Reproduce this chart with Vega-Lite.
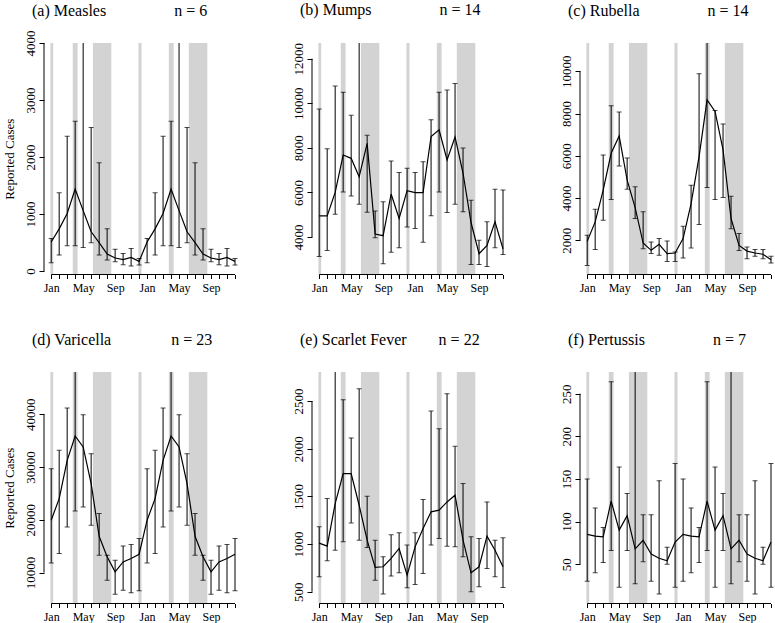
{
  "$schema": "https://vega.github.io/schema/vega-lite/v6.json",
  "autosize": {"type": "pad"},
  "padding": {"left": 2, "top": 2, "right": 0, "bottom": 0},
  "background": "white",
  "config": {
    "font": "Liberation Serif",
    "view": {"stroke": null},
    "title": {"font": "Liberation Serif", "fontSize": 16, "fontWeight": "normal", "anchor": "start", "frame": "group", "dx": -12, "baseline": "alphabetic", "offset": 11, "color": "black"},
    "axis": {"domain": false, "grid": false, "labelFont": "Liberation Serif", "titleFont": "Liberation Serif", "labelColor": "black", "tickColor": "black", "titleColor": "black", "titleFontWeight": "normal", "labelOverlap": false, "labelFlush": false},
    "axisX": {"tickSize": 4, "labelFontSize": 12, "labelBaseline": "alphabetic", "labelPadding": 13},
    "axisY": {"tickSize": 5, "labelFontSize": 13, "titleFontSize": 13, "labelAngle": 270, "labelAlign": "center", "labelBaseline": "alphabetic", "labelPadding": 5, "titlePadding": 8}
  },
  "datasets": {
    "one": [{"k": 1}],
    "hol": [{"s": 0.9, "e": 1.25}, {"s": 3.7, "e": 4.3}, {"s": 6.22, "e": 8.52}, {"s": 11.92, "e": 12.3}, {"s": 15.72, "e": 16.32}, {"s": 18.22, "e": 20.54}],
    "meas": [
      {"m":1,"v":510,"lo":146,"hi":572},{"m":2,"v":740,"lo":280,"hi":1372},{"m":3,"v":1010,"lo":444,"hi":2365},{"m":4,"v":1440,"lo":444,"hi":2628},
      {"m":5,"v":1060,"lo":415,"hi":4030},{"m":6,"v":690,"lo":496,"hi":2517},{"m":7,"v":500,"lo":280,"hi":1898},{"m":8,"v":300,"lo":193,"hi":742},
      {"m":9,"v":230,"lo":164,"hi":385},{"m":10,"v":200,"lo":111,"hi":310},{"m":11,"v":240,"lo":88,"hi":397},{"m":12,"v":170,"lo":105,"hi":222},
      {"m":13,"v":510,"lo":146,"hi":572},{"m":14,"v":740,"lo":280,"hi":1372},{"m":15,"v":1010,"lo":444,"hi":2365},{"m":16,"v":1440,"lo":444,"hi":2628},
      {"m":17,"v":1060,"lo":415,"hi":4030},{"m":18,"v":690,"lo":496,"hi":2517},{"m":19,"v":500,"lo":280,"hi":1898},{"m":20,"v":300,"lo":193,"hi":742},
      {"m":21,"v":230,"lo":164,"hi":385},{"m":22,"v":200,"lo":111,"hi":310},{"m":23,"v":240,"lo":88,"hi":397},{"m":24,"v":170,"lo":105,"hi":222}
    ],
    "mump": [
      {"m":1,"v":4950,"lo":3130,"hi":9740},{"m":2,"v":4950,"lo":3400,"hi":7960},{"m":3,"v":6000,"lo":5020,"hi":10770},{"m":4,"v":7680,"lo":6020,"hi":10500},
      {"m":5,"v":7530,"lo":5840,"hi":9460},{"m":6,"v":6700,"lo":5470,"hi":12740},{"m":7,"v":8200,"lo":5110,"hi":8560},{"m":8,"v":4130,"lo":3970,"hi":5170},
      {"m":9,"v":4060,"lo":2800,"hi":5580},{"m":10,"v":5930,"lo":3320,"hi":7410},{"m":11,"v":4830,"lo":3520,"hi":6890},{"m":12,"v":6080,"lo":4450,"hi":7080},
      {"m":13,"v":5990,"lo":4380,"hi":6890},{"m":14,"v":5990,"lo":3770,"hi":7380},{"m":15,"v":8510,"lo":4950,"hi":9260},{"m":16,"v":8810,"lo":6020,"hi":10500},
      {"m":17,"v":7460,"lo":5100,"hi":10590},{"m":18,"v":8490,"lo":5470,"hi":10890},{"m":19,"v":6860,"lo":5130,"hi":7990},{"m":20,"v":4650,"lo":2770,"hi":5650},
      {"m":21,"v":3250,"lo":2770,"hi":3850},{"m":22,"v":3620,"lo":2680,"hi":4680},{"m":23,"v":4680,"lo":3520,"hi":6140},{"m":24,"v":3470,"lo":3220,"hi":6110}
    ],
    "rube": [
      {"m":1,"v":1950,"lo":810,"hi":2240},{"m":2,"v":2870,"lo":1560,"hi":3470},{"m":3,"v":4380,"lo":2950,"hi":6040},{"m":4,"v":6120,"lo":3930,"hi":8370},
      {"m":5,"v":6940,"lo":5520,"hi":8070},{"m":6,"v":4850,"lo":4420,"hi":5900},{"m":7,"v":3550,"lo":3030,"hi":4530},{"m":8,"v":1870,"lo":1600,"hi":3350},
      {"m":9,"v":1525,"lo":1370,"hi":1920},{"m":10,"v":1810,"lo":1290,"hi":2080},{"m":11,"v":1370,"lo":1000,"hi":1970},{"m":12,"v":1400,"lo":1000,"hi":1450},
      {"m":13,"v":2080,"lo":1160,"hi":2670},{"m":14,"v":3740,"lo":1640,"hi":4610},{"m":15,"v":5960,"lo":2750,"hi":9890},{"m":16,"v":8650,"lo":4500,"hi":11380},
      {"m":17,"v":8100,"lo":3930,"hi":8150},{"m":18,"v":6280,"lo":4030,"hi":7510},{"m":19,"v":3030,"lo":2550,"hi":4090},{"m":20,"v":1760,"lo":1520,"hi":2320},
      {"m":21,"v":1490,"lo":1130,"hi":1680},{"m":22,"v":1400,"lo":1240,"hi":1570},{"m":23,"v":1340,"lo":1130,"hi":1560},{"m":24,"v":1080,"lo":920,"hi":1240}
    ],
    "vari": [
      {"m":1,"v":19920,"lo":11830,"hi":29700},{"m":2,"v":24020,"lo":13600,"hi":33180},{"m":3,"v":31280,"lo":18650,"hi":41200},{"m":4,"v":35900,"lo":21680,"hi":48200},
      {"m":5,"v":33810,"lo":22450,"hi":39940},{"m":6,"v":26860,"lo":18970,"hi":32550},{"m":7,"v":16880,"lo":13280,"hi":21180},{"m":8,"v":13000,"lo":8550,"hi":13300},
      {"m":9,"v":10130,"lo":5900,"hi":12340},{"m":10,"v":12020,"lo":6650,"hi":15050},{"m":11,"v":12650,"lo":6150,"hi":15300},{"m":12,"v":13470,"lo":6530,"hi":16440},
      {"m":13,"v":19920,"lo":11830,"hi":29700},{"m":14,"v":24020,"lo":13600,"hi":33180},{"m":15,"v":31280,"lo":18650,"hi":41200},{"m":16,"v":35900,"lo":21680,"hi":48200},
      {"m":17,"v":33810,"lo":22450,"hi":39940},{"m":18,"v":26860,"lo":18970,"hi":32550},{"m":19,"v":16880,"lo":13280,"hi":21180},{"m":20,"v":13000,"lo":8550,"hi":13300},
      {"m":21,"v":10130,"lo":5900,"hi":12340},{"m":22,"v":12020,"lo":6650,"hi":15050},{"m":23,"v":12650,"lo":6150,"hi":15300},{"m":24,"v":13470,"lo":6530,"hi":16440}
    ],
    "scar": [
      {"m":1,"v":1010,"lo":657,"hi":1181},{"m":2,"v":978,"lo":825,"hi":1477},{"m":3,"v":1425,"lo":936,"hi":2815},{"m":4,"v":1739,"lo":1024,"hi":2514},
      {"m":5,"v":1739,"lo":1222,"hi":2113},{"m":6,"v":1407,"lo":1041,"hi":2629},{"m":7,"v":1041,"lo":964,"hi":1502},{"m":8,"v":755,"lo":622,"hi":1041},
      {"m":9,"v":762,"lo":476,"hi":867},{"m":10,"v":849,"lo":664,"hi":1097},{"m":11,"v":954,"lo":699,"hi":1118},{"m":12,"v":675,"lo":542,"hi":989},
      {"m":13,"v":971,"lo":577,"hi":1118},{"m":14,"v":1163,"lo":692,"hi":1467},{"m":15,"v":1338,"lo":989,"hi":2395},{"m":16,"v":1355,"lo":1058,"hi":2210},
      {"m":17,"v":1442,"lo":978,"hi":2577},{"m":18,"v":1512,"lo":971,"hi":2025},{"m":19,"v":1041,"lo":867,"hi":1634},{"m":20,"v":699,"lo":500,"hi":1076},
      {"m":21,"v":762,"lo":552,"hi":1058},{"m":22,"v":1083,"lo":744,"hi":1442},{"m":23,"v":936,"lo":657,"hi":1041},{"m":24,"v":762,"lo":545,"hi":1065}
    ],
    "pert": [
      {"m":1,"v":85,"lo":30,"hi":150},{"m":2,"v":83,"lo":40,"hi":116},{"m":3,"v":82,"lo":52,"hi":93},{"m":4,"v":124,"lo":66,"hi":264},
      {"m":5,"v":90,"lo":23,"hi":164},{"m":6,"v":107,"lo":66,"hi":133},{"m":7,"v":68,"lo":27,"hi":277},{"m":8,"v":78,"lo":53,"hi":108},
      {"m":9,"v":62,"lo":30,"hi":108},{"m":10,"v":57,"lo":15,"hi":148},{"m":11,"v":54,"lo":50,"hi":70},{"m":12,"v":76,"lo":23,"hi":168},
      {"m":13,"v":85,"lo":30,"hi":150},{"m":14,"v":83,"lo":40,"hi":116},{"m":15,"v":82,"lo":52,"hi":93},{"m":16,"v":124,"lo":66,"hi":264},
      {"m":17,"v":90,"lo":23,"hi":164},{"m":18,"v":107,"lo":66,"hi":133},{"m":19,"v":68,"lo":27,"hi":277},{"m":20,"v":78,"lo":53,"hi":108},
      {"m":21,"v":62,"lo":30,"hi":108},{"m":22,"v":57,"lo":15,"hi":148},{"m":23,"v":54,"lo":50,"hi":70},{"m":24,"v":76,"lo":23,"hi":168}
    ]
  },
  "columns": 3,
  "spacing": {"row": 97, "column": 73},
  "bounds": "flush",
  "concat": [
    {
      "title": {"text": "(a) Measles\u00a0\u00a0\u00a0\u00a0\u00a0\u00a0\u00a0\u00a0\u00a0\u00a0\u00a0\u00a0\u00a0\u00a0\u00a0\u00a0\u00a0n = 6", "font": "Liberation Serif", "fontSize": 16, "fontWeight": "normal", "anchor": "start", "frame": "group", "dx": -12, "baseline": "alphabetic", "offset": -2},
      "width": 195, "height": 231.5,
      "layer": [
        {"data": {"name": "hol"}, "mark": {"type": "rect", "color": "#d3d3d3"},
         "encoding": {"x": {"field": "s", "type": "quantitative", "scale": {"domain": [0.1, 24.5], "nice": false, "zero": false}, "axis": {"values": [1,2,3,4,5,6,7,8,9,10,11,12,13,14,15,16,17,18,19,20,21,22,23,24], "tickCount": 30, "title": null, "labelOverlap": false, "labelExpr": "datum.value % 12 == 1 ? 'Jan' : datum.value % 12 == 5 ? 'May' : datum.value % 12 == 9 ? 'Sep' : ''"}}, "x2": {"field": "e"}}},
        {"data": {"name": "meas"}, "mark": {"type": "rule", "color": "black", "strokeWidth": 1, "clip": true},
         "encoding": {"x": {"field": "m", "type": "quantitative", "scale": {"domain": [0.1, 24.5], "nice": false, "zero": false}, "axis": {"values": [1,2,3,4,5,6,7,8,9,10,11,12,13,14,15,16,17,18,19,20,21,22,23,24], "tickCount": 30, "title": null, "labelOverlap": false, "labelExpr": "datum.value % 12 == 1 ? 'Jan' : datum.value % 12 == 5 ? 'May' : datum.value % 12 == 9 ? 'Sep' : ''"}},
          "y": {"field": "lo", "type": "quantitative", "scale": {"domain": [-60, 4000], "nice": false, "zero": false}, "axis": {"values": [0,1000,2000,3000,4000], "format": "d", "labelOverlap": false, "title": "Reported Cases"}}, "y2": {"field": "hi"}}},
        {"data": {"name": "meas"}, "mark": {"type": "tick", "orient": "horizontal", "size": 5, "thickness": 1, "color": "black", "clip": true},
         "encoding": {"x": {"field": "m", "type": "quantitative", "scale": {"domain": [0.1, 24.5], "nice": false, "zero": false}, "axis": {"values": [1,2,3,4,5,6,7,8,9,10,11,12,13,14,15,16,17,18,19,20,21,22,23,24], "tickCount": 30, "title": null, "labelOverlap": false, "labelExpr": "datum.value % 12 == 1 ? 'Jan' : datum.value % 12 == 5 ? 'May' : datum.value % 12 == 9 ? 'Sep' : ''"}},
          "y": {"field": "lo", "type": "quantitative", "scale": {"domain": [-60, 4000], "nice": false, "zero": false}, "axis": {"values": [0,1000,2000,3000,4000], "format": "d", "labelOverlap": false, "title": "Reported Cases"}}}},
        {"data": {"name": "meas"}, "mark": {"type": "tick", "orient": "horizontal", "size": 5, "thickness": 1, "color": "black", "clip": true},
         "encoding": {"x": {"field": "m", "type": "quantitative", "scale": {"domain": [0.1, 24.5], "nice": false, "zero": false}, "axis": {"values": [1,2,3,4,5,6,7,8,9,10,11,12,13,14,15,16,17,18,19,20,21,22,23,24], "tickCount": 30, "title": null, "labelOverlap": false, "labelExpr": "datum.value % 12 == 1 ? 'Jan' : datum.value % 12 == 5 ? 'May' : datum.value % 12 == 9 ? 'Sep' : ''"}},
          "y": {"field": "hi", "type": "quantitative", "scale": {"domain": [-60, 4000], "nice": false, "zero": false}, "axis": {"values": [0,1000,2000,3000,4000], "format": "d", "labelOverlap": false, "title": "Reported Cases"}}}},
        {"data": {"name": "meas"}, "mark": {"type": "line", "color": "black", "strokeWidth": 1.2, "clip": true},
         "encoding": {"x": {"field": "m", "type": "quantitative", "scale": {"domain": [0.1, 24.5], "nice": false, "zero": false}, "axis": {"values": [1,2,3,4,5,6,7,8,9,10,11,12,13,14,15,16,17,18,19,20,21,22,23,24], "tickCount": 30, "title": null, "labelOverlap": false, "labelExpr": "datum.value % 12 == 1 ? 'Jan' : datum.value % 12 == 5 ? 'May' : datum.value % 12 == 9 ? 'Sep' : ''"}},
          "y": {"field": "v", "type": "quantitative", "scale": {"domain": [-60, 4000], "nice": false, "zero": false}, "axis": {"values": [0,1000,2000,3000,4000], "format": "d", "labelOverlap": false, "title": "Reported Cases"}}}},
        {"data": {"name": "one"}, "mark": {"type": "rule", "color": "black", "strokeWidth": 1},
         "encoding": {"x": {"datum": 0.1, "type": "quantitative"}, "y": {"datum": 0, "type": "quantitative"}, "y2": {"datum": 4000}}},
        {"data": {"name": "one"}, "mark": {"type": "rule", "color": "black", "strokeWidth": 1},
         "encoding": {"x": {"datum": 1, "type": "quantitative"}, "x2": {"datum": 24}, "y": {"datum": -60, "type": "quantitative"}}}
      ]
    },
    {
      "title": {"text": "(b) Mumps\u00a0\u00a0\u00a0\u00a0\u00a0\u00a0\u00a0\u00a0\u00a0\u00a0\u00a0\u00a0\u00a0\u00a0\u00a0\u00a0\u00a0n = 14", "font": "Liberation Serif", "fontSize": 16, "fontWeight": "normal", "anchor": "start", "frame": "group", "dx": -12, "baseline": "alphabetic", "offset": 11},
      "width": 195, "height": 231.5,
      "layer": [
        {"data": {"name": "hol"}, "mark": {"type": "rect", "color": "#d3d3d3"},
         "encoding": {"x": {"field": "s", "type": "quantitative", "scale": {"domain": [0.1, 24.5], "nice": false, "zero": false}, "axis": {"values": [1,2,3,4,5,6,7,8,9,10,11,12,13,14,15,16,17,18,19,20,21,22,23,24], "tickCount": 30, "title": null, "labelOverlap": false, "labelExpr": "datum.value % 12 == 1 ? 'Jan' : datum.value % 12 == 5 ? 'May' : datum.value % 12 == 9 ? 'Sep' : ''"}}, "x2": {"field": "e"}}},
        {"data": {"name": "mump"}, "mark": {"type": "rule", "color": "black", "strokeWidth": 1, "clip": true},
         "encoding": {"x": {"field": "m", "type": "quantitative", "scale": {"domain": [0.1, 24.5], "nice": false, "zero": false}, "axis": {"values": [1,2,3,4,5,6,7,8,9,10,11,12,13,14,15,16,17,18,19,20,21,22,23,24], "tickCount": 30, "title": null, "labelOverlap": false, "labelExpr": "datum.value % 12 == 1 ? 'Jan' : datum.value % 12 == 5 ? 'May' : datum.value % 12 == 9 ? 'Sep' : ''"}},
          "y": {"field": "lo", "type": "quantitative", "scale": {"domain": [2318, 12704], "nice": false, "zero": false}, "axis": {"values": [4000,6000,8000,10000,12000], "format": "d", "labelOverlap": false, "title": null}}, "y2": {"field": "hi"}}},
        {"data": {"name": "mump"}, "mark": {"type": "tick", "orient": "horizontal", "size": 5, "thickness": 1, "color": "black", "clip": true},
         "encoding": {"x": {"field": "m", "type": "quantitative", "scale": {"domain": [0.1, 24.5], "nice": false, "zero": false}, "axis": {"values": [1,2,3,4,5,6,7,8,9,10,11,12,13,14,15,16,17,18,19,20,21,22,23,24], "tickCount": 30, "title": null, "labelOverlap": false, "labelExpr": "datum.value % 12 == 1 ? 'Jan' : datum.value % 12 == 5 ? 'May' : datum.value % 12 == 9 ? 'Sep' : ''"}},
          "y": {"field": "lo", "type": "quantitative", "scale": {"domain": [2318, 12704], "nice": false, "zero": false}, "axis": {"values": [4000,6000,8000,10000,12000], "format": "d", "labelOverlap": false, "title": null}}}},
        {"data": {"name": "mump"}, "mark": {"type": "tick", "orient": "horizontal", "size": 5, "thickness": 1, "color": "black", "clip": true},
         "encoding": {"x": {"field": "m", "type": "quantitative", "scale": {"domain": [0.1, 24.5], "nice": false, "zero": false}, "axis": {"values": [1,2,3,4,5,6,7,8,9,10,11,12,13,14,15,16,17,18,19,20,21,22,23,24], "tickCount": 30, "title": null, "labelOverlap": false, "labelExpr": "datum.value % 12 == 1 ? 'Jan' : datum.value % 12 == 5 ? 'May' : datum.value % 12 == 9 ? 'Sep' : ''"}},
          "y": {"field": "hi", "type": "quantitative", "scale": {"domain": [2318, 12704], "nice": false, "zero": false}, "axis": {"values": [4000,6000,8000,10000,12000], "format": "d", "labelOverlap": false, "title": null}}}},
        {"data": {"name": "mump"}, "mark": {"type": "line", "color": "black", "strokeWidth": 1.2, "clip": true},
         "encoding": {"x": {"field": "m", "type": "quantitative", "scale": {"domain": [0.1, 24.5], "nice": false, "zero": false}, "axis": {"values": [1,2,3,4,5,6,7,8,9,10,11,12,13,14,15,16,17,18,19,20,21,22,23,24], "tickCount": 30, "title": null, "labelOverlap": false, "labelExpr": "datum.value % 12 == 1 ? 'Jan' : datum.value % 12 == 5 ? 'May' : datum.value % 12 == 9 ? 'Sep' : ''"}},
          "y": {"field": "v", "type": "quantitative", "scale": {"domain": [2318, 12704], "nice": false, "zero": false}, "axis": {"values": [4000,6000,8000,10000,12000], "format": "d", "labelOverlap": false, "title": null}}}},
        {"data": {"name": "one"}, "mark": {"type": "rule", "color": "black", "strokeWidth": 1},
         "encoding": {"x": {"datum": 0.1, "type": "quantitative"}, "y": {"datum": 4000, "type": "quantitative"}, "y2": {"datum": 12000}}},
        {"data": {"name": "one"}, "mark": {"type": "rule", "color": "black", "strokeWidth": 1},
         "encoding": {"x": {"datum": 1, "type": "quantitative"}, "x2": {"datum": 24}, "y": {"datum": 2318, "type": "quantitative"}}}
      ]
    },
    {
      "title": {"text": "(c) Rubella\u00a0\u00a0\u00a0\u00a0\u00a0\u00a0\u00a0\u00a0\u00a0\u00a0\u00a0\u00a0\u00a0\u00a0\u00a0\u00a0\u00a0n = 14", "font": "Liberation Serif", "fontSize": 16, "fontWeight": "normal", "anchor": "start", "frame": "group", "dx": -12, "baseline": "alphabetic", "offset": 11},
      "width": 195, "height": 231.5,
      "layer": [
        {"data": {"name": "hol"}, "mark": {"type": "rect", "color": "#d3d3d3"},
         "encoding": {"x": {"field": "s", "type": "quantitative", "scale": {"domain": [0.1, 24.5], "nice": false, "zero": false}, "axis": {"values": [1,2,3,4,5,6,7,8,9,10,11,12,13,14,15,16,17,18,19,20,21,22,23,24], "tickCount": 30, "title": null, "labelOverlap": false, "labelExpr": "datum.value % 12 == 1 ? 'Jan' : datum.value % 12 == 5 ? 'May' : datum.value % 12 == 9 ? 'Sep' : ''"}}, "x2": {"field": "e"}}},
        {"data": {"name": "rube"}, "mark": {"type": "rule", "color": "black", "strokeWidth": 1, "clip": true},
         "encoding": {"x": {"field": "m", "type": "quantitative", "scale": {"domain": [0.1, 24.5], "nice": false, "zero": false}, "axis": {"values": [1,2,3,4,5,6,7,8,9,10,11,12,13,14,15,16,17,18,19,20,21,22,23,24], "tickCount": 30, "title": null, "labelOverlap": false, "labelExpr": "datum.value % 12 == 1 ? 'Jan' : datum.value % 12 == 5 ? 'May' : datum.value % 12 == 9 ? 'Sep' : ''"}},
          "y": {"field": "lo", "type": "quantitative", "scale": {"domain": [381, 11340], "nice": false, "zero": false}, "axis": {"values": [2000,4000,6000,8000,10000], "format": "d", "labelOverlap": false, "title": null}}, "y2": {"field": "hi"}}},
        {"data": {"name": "rube"}, "mark": {"type": "tick", "orient": "horizontal", "size": 5, "thickness": 1, "color": "black", "clip": true},
         "encoding": {"x": {"field": "m", "type": "quantitative", "scale": {"domain": [0.1, 24.5], "nice": false, "zero": false}, "axis": {"values": [1,2,3,4,5,6,7,8,9,10,11,12,13,14,15,16,17,18,19,20,21,22,23,24], "tickCount": 30, "title": null, "labelOverlap": false, "labelExpr": "datum.value % 12 == 1 ? 'Jan' : datum.value % 12 == 5 ? 'May' : datum.value % 12 == 9 ? 'Sep' : ''"}},
          "y": {"field": "lo", "type": "quantitative", "scale": {"domain": [381, 11340], "nice": false, "zero": false}, "axis": {"values": [2000,4000,6000,8000,10000], "format": "d", "labelOverlap": false, "title": null}}}},
        {"data": {"name": "rube"}, "mark": {"type": "tick", "orient": "horizontal", "size": 5, "thickness": 1, "color": "black", "clip": true},
         "encoding": {"x": {"field": "m", "type": "quantitative", "scale": {"domain": [0.1, 24.5], "nice": false, "zero": false}, "axis": {"values": [1,2,3,4,5,6,7,8,9,10,11,12,13,14,15,16,17,18,19,20,21,22,23,24], "tickCount": 30, "title": null, "labelOverlap": false, "labelExpr": "datum.value % 12 == 1 ? 'Jan' : datum.value % 12 == 5 ? 'May' : datum.value % 12 == 9 ? 'Sep' : ''"}},
          "y": {"field": "hi", "type": "quantitative", "scale": {"domain": [381, 11340], "nice": false, "zero": false}, "axis": {"values": [2000,4000,6000,8000,10000], "format": "d", "labelOverlap": false, "title": null}}}},
        {"data": {"name": "rube"}, "mark": {"type": "line", "color": "black", "strokeWidth": 1.2, "clip": true},
         "encoding": {"x": {"field": "m", "type": "quantitative", "scale": {"domain": [0.1, 24.5], "nice": false, "zero": false}, "axis": {"values": [1,2,3,4,5,6,7,8,9,10,11,12,13,14,15,16,17,18,19,20,21,22,23,24], "tickCount": 30, "title": null, "labelOverlap": false, "labelExpr": "datum.value % 12 == 1 ? 'Jan' : datum.value % 12 == 5 ? 'May' : datum.value % 12 == 9 ? 'Sep' : ''"}},
          "y": {"field": "v", "type": "quantitative", "scale": {"domain": [381, 11340], "nice": false, "zero": false}, "axis": {"values": [2000,4000,6000,8000,10000], "format": "d", "labelOverlap": false, "title": null}}}},
        {"data": {"name": "one"}, "mark": {"type": "rule", "color": "black", "strokeWidth": 1},
         "encoding": {"x": {"datum": 0.1, "type": "quantitative"}, "y": {"datum": 2000, "type": "quantitative"}, "y2": {"datum": 10000}}},
        {"data": {"name": "one"}, "mark": {"type": "rule", "color": "black", "strokeWidth": 1},
         "encoding": {"x": {"datum": 1, "type": "quantitative"}, "x2": {"datum": 24}, "y": {"datum": 381, "type": "quantitative"}}}
      ]
    },
    {
      "title": {"text": "(d) Varicella\u00a0\u00a0\u00a0\u00a0\u00a0\u00a0\u00a0\u00a0\u00a0\u00a0\u00a0\u00a0\u00a0\u00a0\u00a0n = 23", "font": "Liberation Serif", "fontSize": 16, "fontWeight": "normal", "anchor": "start", "frame": "group", "dx": -12, "baseline": "alphabetic", "offset": 11},
      "width": 195, "height": 231.5,
      "layer": [
        {"data": {"name": "hol"}, "mark": {"type": "rect", "color": "#d3d3d3"},
         "encoding": {"x": {"field": "s", "type": "quantitative", "scale": {"domain": [0.1, 24.5], "nice": false, "zero": false}, "axis": {"values": [1,2,3,4,5,6,7,8,9,10,11,12,13,14,15,16,17,18,19,20,21,22,23,24], "tickCount": 30, "title": null, "labelOverlap": false, "labelExpr": "datum.value % 12 == 1 ? 'Jan' : datum.value % 12 == 5 ? 'May' : datum.value % 12 == 9 ? 'Sep' : ''"}}, "x2": {"field": "e"}}},
        {"data": {"name": "vari"}, "mark": {"type": "rule", "color": "black", "strokeWidth": 1, "clip": true},
         "encoding": {"x": {"field": "m", "type": "quantitative", "scale": {"domain": [0.1, 24.5], "nice": false, "zero": false}, "axis": {"values": [1,2,3,4,5,6,7,8,9,10,11,12,13,14,15,16,17,18,19,20,21,22,23,24], "tickCount": 30, "title": null, "labelOverlap": false, "labelExpr": "datum.value % 12 == 1 ? 'Jan' : datum.value % 12 == 5 ? 'May' : datum.value % 12 == 9 ? 'Sep' : ''"}},
          "y": {"field": "lo", "type": "quantitative", "scale": {"domain": [4127, 48033], "nice": false, "zero": false}, "axis": {"values": [10000,20000,30000,40000], "format": "d", "labelOverlap": false, "title": "Reported Cases"}}, "y2": {"field": "hi"}}},
        {"data": {"name": "vari"}, "mark": {"type": "tick", "orient": "horizontal", "size": 5, "thickness": 1, "color": "black", "clip": true},
         "encoding": {"x": {"field": "m", "type": "quantitative", "scale": {"domain": [0.1, 24.5], "nice": false, "zero": false}, "axis": {"values": [1,2,3,4,5,6,7,8,9,10,11,12,13,14,15,16,17,18,19,20,21,22,23,24], "tickCount": 30, "title": null, "labelOverlap": false, "labelExpr": "datum.value % 12 == 1 ? 'Jan' : datum.value % 12 == 5 ? 'May' : datum.value % 12 == 9 ? 'Sep' : ''"}},
          "y": {"field": "lo", "type": "quantitative", "scale": {"domain": [4127, 48033], "nice": false, "zero": false}, "axis": {"values": [10000,20000,30000,40000], "format": "d", "labelOverlap": false, "title": "Reported Cases"}}}},
        {"data": {"name": "vari"}, "mark": {"type": "tick", "orient": "horizontal", "size": 5, "thickness": 1, "color": "black", "clip": true},
         "encoding": {"x": {"field": "m", "type": "quantitative", "scale": {"domain": [0.1, 24.5], "nice": false, "zero": false}, "axis": {"values": [1,2,3,4,5,6,7,8,9,10,11,12,13,14,15,16,17,18,19,20,21,22,23,24], "tickCount": 30, "title": null, "labelOverlap": false, "labelExpr": "datum.value % 12 == 1 ? 'Jan' : datum.value % 12 == 5 ? 'May' : datum.value % 12 == 9 ? 'Sep' : ''"}},
          "y": {"field": "hi", "type": "quantitative", "scale": {"domain": [4127, 48033], "nice": false, "zero": false}, "axis": {"values": [10000,20000,30000,40000], "format": "d", "labelOverlap": false, "title": "Reported Cases"}}}},
        {"data": {"name": "vari"}, "mark": {"type": "line", "color": "black", "strokeWidth": 1.2, "clip": true},
         "encoding": {"x": {"field": "m", "type": "quantitative", "scale": {"domain": [0.1, 24.5], "nice": false, "zero": false}, "axis": {"values": [1,2,3,4,5,6,7,8,9,10,11,12,13,14,15,16,17,18,19,20,21,22,23,24], "tickCount": 30, "title": null, "labelOverlap": false, "labelExpr": "datum.value % 12 == 1 ? 'Jan' : datum.value % 12 == 5 ? 'May' : datum.value % 12 == 9 ? 'Sep' : ''"}},
          "y": {"field": "v", "type": "quantitative", "scale": {"domain": [4127, 48033], "nice": false, "zero": false}, "axis": {"values": [10000,20000,30000,40000], "format": "d", "labelOverlap": false, "title": "Reported Cases"}}}},
        {"data": {"name": "one"}, "mark": {"type": "rule", "color": "black", "strokeWidth": 1},
         "encoding": {"x": {"datum": 0.1, "type": "quantitative"}, "y": {"datum": 10000, "type": "quantitative"}, "y2": {"datum": 40000}}},
        {"data": {"name": "one"}, "mark": {"type": "rule", "color": "black", "strokeWidth": 1},
         "encoding": {"x": {"datum": 1, "type": "quantitative"}, "x2": {"datum": 24}, "y": {"datum": 4127, "type": "quantitative"}}}
      ]
    },
    {
      "title": {"text": "(e) Scarlet Fever\u00a0\u00a0\u00a0\u00a0\u00a0\u00a0\u00a0\u00a0n = 22", "font": "Liberation Serif", "fontSize": 16, "fontWeight": "normal", "anchor": "start", "frame": "group", "dx": -12, "baseline": "alphabetic", "offset": 11},
      "width": 195, "height": 231.5,
      "layer": [
        {"data": {"name": "hol"}, "mark": {"type": "rect", "color": "#d3d3d3"},
         "encoding": {"x": {"field": "s", "type": "quantitative", "scale": {"domain": [0.1, 24.5], "nice": false, "zero": false}, "axis": {"values": [1,2,3,4,5,6,7,8,9,10,11,12,13,14,15,16,17,18,19,20,21,22,23,24], "tickCount": 30, "title": null, "labelOverlap": false, "labelExpr": "datum.value % 12 == 1 ? 'Jan' : datum.value % 12 == 5 ? 'May' : datum.value % 12 == 9 ? 'Sep' : ''"}}, "x2": {"field": "e"}}},
        {"data": {"name": "scar"}, "mark": {"type": "rule", "color": "black", "strokeWidth": 1, "clip": true},
         "encoding": {"x": {"field": "m", "type": "quantitative", "scale": {"domain": [0.1, 24.5], "nice": false, "zero": false}, "axis": {"values": [1,2,3,4,5,6,7,8,9,10,11,12,13,14,15,16,17,18,19,20,21,22,23,24], "tickCount": 30, "title": null, "labelOverlap": false, "labelExpr": "datum.value % 12 == 1 ? 'Jan' : datum.value % 12 == 5 ? 'May' : datum.value % 12 == 9 ? 'Sep' : ''"}},
          "y": {"field": "lo", "type": "quantitative", "scale": {"domain": [377, 2804], "nice": false, "zero": false}, "axis": {"values": [500,1000,1500,2000,2500], "format": "d", "labelOverlap": false, "title": null}}, "y2": {"field": "hi"}}},
        {"data": {"name": "scar"}, "mark": {"type": "tick", "orient": "horizontal", "size": 5, "thickness": 1, "color": "black", "clip": true},
         "encoding": {"x": {"field": "m", "type": "quantitative", "scale": {"domain": [0.1, 24.5], "nice": false, "zero": false}, "axis": {"values": [1,2,3,4,5,6,7,8,9,10,11,12,13,14,15,16,17,18,19,20,21,22,23,24], "tickCount": 30, "title": null, "labelOverlap": false, "labelExpr": "datum.value % 12 == 1 ? 'Jan' : datum.value % 12 == 5 ? 'May' : datum.value % 12 == 9 ? 'Sep' : ''"}},
          "y": {"field": "lo", "type": "quantitative", "scale": {"domain": [377, 2804], "nice": false, "zero": false}, "axis": {"values": [500,1000,1500,2000,2500], "format": "d", "labelOverlap": false, "title": null}}}},
        {"data": {"name": "scar"}, "mark": {"type": "tick", "orient": "horizontal", "size": 5, "thickness": 1, "color": "black", "clip": true},
         "encoding": {"x": {"field": "m", "type": "quantitative", "scale": {"domain": [0.1, 24.5], "nice": false, "zero": false}, "axis": {"values": [1,2,3,4,5,6,7,8,9,10,11,12,13,14,15,16,17,18,19,20,21,22,23,24], "tickCount": 30, "title": null, "labelOverlap": false, "labelExpr": "datum.value % 12 == 1 ? 'Jan' : datum.value % 12 == 5 ? 'May' : datum.value % 12 == 9 ? 'Sep' : ''"}},
          "y": {"field": "hi", "type": "quantitative", "scale": {"domain": [377, 2804], "nice": false, "zero": false}, "axis": {"values": [500,1000,1500,2000,2500], "format": "d", "labelOverlap": false, "title": null}}}},
        {"data": {"name": "scar"}, "mark": {"type": "line", "color": "black", "strokeWidth": 1.2, "clip": true},
         "encoding": {"x": {"field": "m", "type": "quantitative", "scale": {"domain": [0.1, 24.5], "nice": false, "zero": false}, "axis": {"values": [1,2,3,4,5,6,7,8,9,10,11,12,13,14,15,16,17,18,19,20,21,22,23,24], "tickCount": 30, "title": null, "labelOverlap": false, "labelExpr": "datum.value % 12 == 1 ? 'Jan' : datum.value % 12 == 5 ? 'May' : datum.value % 12 == 9 ? 'Sep' : ''"}},
          "y": {"field": "v", "type": "quantitative", "scale": {"domain": [377, 2804], "nice": false, "zero": false}, "axis": {"values": [500,1000,1500,2000,2500], "format": "d", "labelOverlap": false, "title": null}}}},
        {"data": {"name": "one"}, "mark": {"type": "rule", "color": "black", "strokeWidth": 1},
         "encoding": {"x": {"datum": 0.1, "type": "quantitative"}, "y": {"datum": 500, "type": "quantitative"}, "y2": {"datum": 2500}}},
        {"data": {"name": "one"}, "mark": {"type": "rule", "color": "black", "strokeWidth": 1},
         "encoding": {"x": {"datum": 1, "type": "quantitative"}, "x2": {"datum": 24}, "y": {"datum": 377, "type": "quantitative"}}}
      ]
    },
    {
      "title": {"text": "(f) Pertussis\u00a0\u00a0\u00a0\u00a0\u00a0\u00a0\u00a0\u00a0\u00a0\u00a0\u00a0\u00a0\u00a0\u00a0\u00a0\u00a0\u00a0n = 7", "font": "Liberation Serif", "fontSize": 16, "fontWeight": "normal", "anchor": "start", "frame": "group", "dx": -12, "baseline": "alphabetic", "offset": 11},
      "width": 195, "height": 231.5,
      "layer": [
        {"data": {"name": "hol"}, "mark": {"type": "rect", "color": "#d3d3d3"},
         "encoding": {"x": {"field": "s", "type": "quantitative", "scale": {"domain": [0.1, 24.5], "nice": false, "zero": false}, "axis": {"values": [1,2,3,4,5,6,7,8,9,10,11,12,13,14,15,16,17,18,19,20,21,22,23,24], "tickCount": 30, "title": null, "labelOverlap": false, "labelExpr": "datum.value % 12 == 1 ? 'Jan' : datum.value % 12 == 5 ? 'May' : datum.value % 12 == 9 ? 'Sep' : ''"}}, "x2": {"field": "e"}}},
        {"data": {"name": "pert"}, "mark": {"type": "rule", "color": "black", "strokeWidth": 1, "clip": true},
         "encoding": {"x": {"field": "m", "type": "quantitative", "scale": {"domain": [0.1, 24.5], "nice": false, "zero": false}, "axis": {"values": [1,2,3,4,5,6,7,8,9,10,11,12,13,14,15,16,17,18,19,20,21,22,23,24], "tickCount": 30, "title": null, "labelOverlap": false, "labelExpr": "datum.value % 12 == 1 ? 'Jan' : datum.value % 12 == 5 ? 'May' : datum.value % 12 == 9 ? 'Sep' : ''"}},
          "y": {"field": "lo", "type": "quantitative", "scale": {"domain": [3.9, 275.4], "nice": false, "zero": false}, "axis": {"values": [50,100,150,200,250], "format": "d", "labelOverlap": false, "title": null}}, "y2": {"field": "hi"}}},
        {"data": {"name": "pert"}, "mark": {"type": "tick", "orient": "horizontal", "size": 5, "thickness": 1, "color": "black", "clip": true},
         "encoding": {"x": {"field": "m", "type": "quantitative", "scale": {"domain": [0.1, 24.5], "nice": false, "zero": false}, "axis": {"values": [1,2,3,4,5,6,7,8,9,10,11,12,13,14,15,16,17,18,19,20,21,22,23,24], "tickCount": 30, "title": null, "labelOverlap": false, "labelExpr": "datum.value % 12 == 1 ? 'Jan' : datum.value % 12 == 5 ? 'May' : datum.value % 12 == 9 ? 'Sep' : ''"}},
          "y": {"field": "lo", "type": "quantitative", "scale": {"domain": [3.9, 275.4], "nice": false, "zero": false}, "axis": {"values": [50,100,150,200,250], "format": "d", "labelOverlap": false, "title": null}}}},
        {"data": {"name": "pert"}, "mark": {"type": "tick", "orient": "horizontal", "size": 5, "thickness": 1, "color": "black", "clip": true},
         "encoding": {"x": {"field": "m", "type": "quantitative", "scale": {"domain": [0.1, 24.5], "nice": false, "zero": false}, "axis": {"values": [1,2,3,4,5,6,7,8,9,10,11,12,13,14,15,16,17,18,19,20,21,22,23,24], "tickCount": 30, "title": null, "labelOverlap": false, "labelExpr": "datum.value % 12 == 1 ? 'Jan' : datum.value % 12 == 5 ? 'May' : datum.value % 12 == 9 ? 'Sep' : ''"}},
          "y": {"field": "hi", "type": "quantitative", "scale": {"domain": [3.9, 275.4], "nice": false, "zero": false}, "axis": {"values": [50,100,150,200,250], "format": "d", "labelOverlap": false, "title": null}}}},
        {"data": {"name": "pert"}, "mark": {"type": "line", "color": "black", "strokeWidth": 1.2, "clip": true},
         "encoding": {"x": {"field": "m", "type": "quantitative", "scale": {"domain": [0.1, 24.5], "nice": false, "zero": false}, "axis": {"values": [1,2,3,4,5,6,7,8,9,10,11,12,13,14,15,16,17,18,19,20,21,22,23,24], "tickCount": 30, "title": null, "labelOverlap": false, "labelExpr": "datum.value % 12 == 1 ? 'Jan' : datum.value % 12 == 5 ? 'May' : datum.value % 12 == 9 ? 'Sep' : ''"}},
          "y": {"field": "v", "type": "quantitative", "scale": {"domain": [3.9, 275.4], "nice": false, "zero": false}, "axis": {"values": [50,100,150,200,250], "format": "d", "labelOverlap": false, "title": null}}}},
        {"data": {"name": "one"}, "mark": {"type": "rule", "color": "black", "strokeWidth": 1},
         "encoding": {"x": {"datum": 0.1, "type": "quantitative"}, "y": {"datum": 50, "type": "quantitative"}, "y2": {"datum": 250}}},
        {"data": {"name": "one"}, "mark": {"type": "rule", "color": "black", "strokeWidth": 1},
         "encoding": {"x": {"datum": 1, "type": "quantitative"}, "x2": {"datum": 24}, "y": {"datum": 3.9, "type": "quantitative"}}}
      ]
    }
  ]
}
